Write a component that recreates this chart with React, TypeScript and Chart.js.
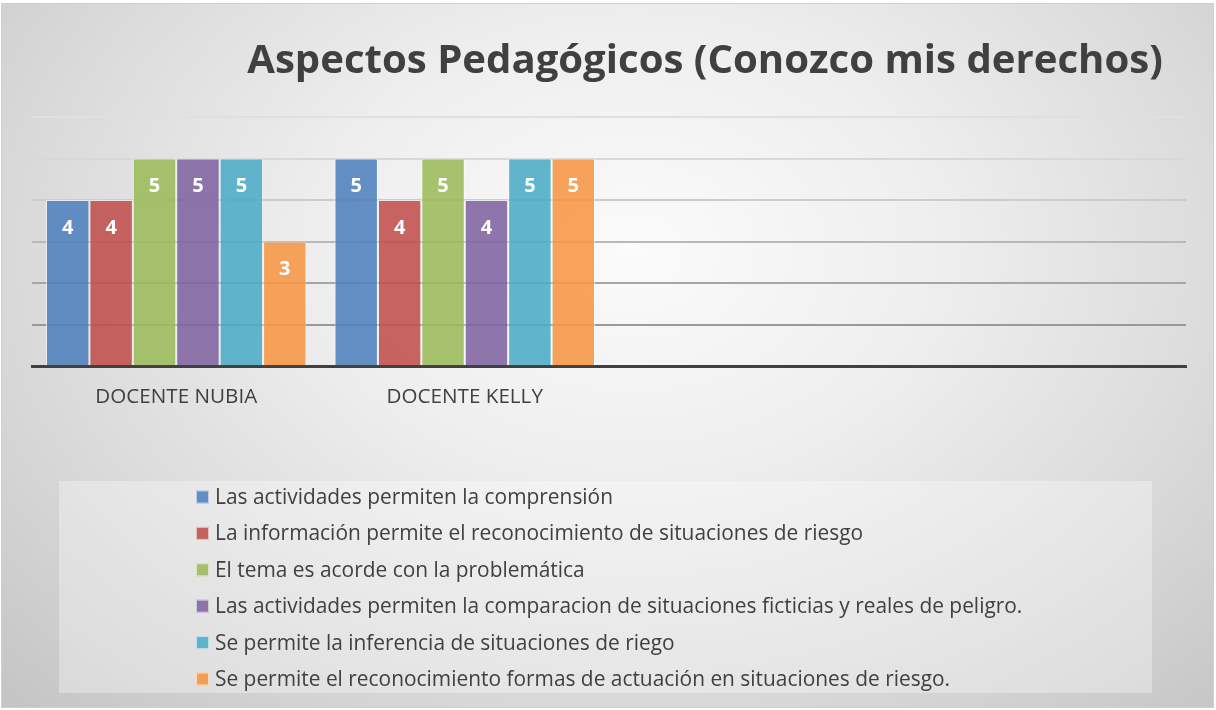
import React, { useEffect, useRef } from "react";
import { Chart, registerables } from "chart.js";

Chart.register(...registerables);

const TITLE = "Aspectos Pedagógicos (Conozco mis derechos)";
const categories = ["DOCENTE NUBIA", "DOCENTE KELLY", "", ""];

const seriesLabels = [
  "Las actividades permiten la comprensión",
  "La información permite el reconocimiento de situaciones de riesgo",
  "El tema es acorde con la problemática",
  "Las actividades permiten la comparacion de situaciones ficticias y reales de peligro.",
  "Se permite la inferencia de situaciones de riego",
  "Se permite el reconocimiento formas de actuación en situaciones de riesgo.",
];

const comprension = [4, 5, null, null];
const reconocimientoRiesgo = [4, 4, null, null];
const temaAcorde = [5, 5, null, null];
const comparacion = [5, 4, null, null];
const inferencia = [5, 5, null, null];
const formasActuacion = [3, 5, null, null];

const seriesValues = [comprension, reconocimientoRiesgo, temaAcorde, comparacion, inferencia, formasActuacion];

const seriesColors = [
  "rgba(79,129,189,0.88)",
  "rgba(192,80,77,0.88)",
  "rgba(155,187,89,0.88)",
  "rgba(128,100,162,0.88)",
  "rgba(75,172,198,0.88)",
  "rgba(247,150,70,0.88)",
];

const gridColors = ["rgba(0,0,0,0)", "#999999", "#a6a6a6", "#b8b8b8", "#cccccc", "#d8d8d8", "#e0e0e0"];

const FONT = "'Open Sans', 'DejaVu Sans', sans-serif";
const TEXT_COLOR = "#404040";

function fitSize(text: string, weight: string, target: number): number {
  const ctx = document.createElement("canvas").getContext("2d")!;
  ctx.font = `${weight} 100px ${FONT}`;
  return (100 * target) / ctx.measureText(text).width;
}

export default function App() {
  const canvasRef = useRef<HTMLCanvasElement | null>(null);

  useEffect(() => {
    document.body.style.margin = "0";
    const canvas = canvasRef.current;
    if (!canvas) return;

    const titleSize = fitSize(TITLE, "bold", 916);
    const tickSize = fitSize(categories[0], "normal", 162);
    const longest = seriesLabels.reduce((a, b) => (b.length > a.length ? b : a), "");
    const legendSize = fitSize(longest, "normal", 808);

    const titlePlugin = {
      id: "customTitle",
      afterDraw(chart: any) {
        const ctx = chart.ctx;
        ctx.save();
        ctx.font = `bold ${titleSize}px ${FONT}`;
        ctx.fillStyle = TEXT_COLOR;
        ctx.textAlign = "center";
        ctx.textBaseline = "alphabetic";
        ctx.fillText(TITLE, 705, 73);
        ctx.restore();
      },
    };

    const labelPlugin = {
      id: "barLabels",
      afterDatasetsDraw(chart: any) {
        const ctx = chart.ctx;
        ctx.save();
        ctx.font = `bold 20px ${FONT}`;
        ctx.fillStyle = "#ffffff";
        ctx.textAlign = "center";
        ctx.textBaseline = "middle";
        chart.data.datasets.forEach((ds: any, di: number) => {
          const meta = chart.getDatasetMeta(di);
          meta.data.forEach((el: any, i: number) => {
            const v = ds.data[i];
            if (v === null || v === undefined) return;
            ctx.fillText(String(v), el.x, el.y + 28);
          });
        });
        ctx.restore();
      },
    };

    const legendPlugin = {
      id: "customLegend",
      afterDraw(chart: any) {
        const ctx = chart.ctx;
        ctx.save();
        ctx.fillStyle = "rgba(255,255,255,0.32)";
        ctx.fillRect(59, 481, 1093, 212);
        ctx.font = `${legendSize}px ${FONT}`;
        ctx.textBaseline = "middle";
        ctx.textAlign = "left";
        chart.data.datasets.forEach((ds: any, i: number) => {
          const cy = 497 + i * 36.4;
          ctx.fillStyle = ds.backgroundColor;
          ctx.fillRect(196, cy - 6.5, 13, 13);
          ctx.strokeStyle = "rgba(255,255,255,0.6)";
          ctx.lineWidth = 1;
          ctx.strokeRect(196.5, cy - 6, 12, 12);
          ctx.fillStyle = TEXT_COLOR;
          ctx.fillText(ds.label, 215, cy + 1);
        });
        ctx.restore();
      },
    };

    const chart = new Chart(canvas, {
      type: "bar",
      data: {
        labels: categories,
        datasets: seriesLabels.map((label, i) => ({
          label,
          data: seriesValues[i],
          backgroundColor: seriesColors[i],
          borderColor: "rgba(255,255,255,0.55)",
          borderWidth: 1,
          categoryPercentage: 0.903,
          barPercentage: 1.0,
        })),
      },
      options: {
        responsive: false,
        animation: false,
        layout: { padding: { left: 32, right: 30, top: 117, bottom: 281 } },
        plugins: {
          legend: { display: false },
          title: { display: false },
          tooltip: { enabled: false },
        },
        scales: {
          x: {
            grid: { display: false, drawTicks: false },
            border: { display: true, color: "#404040", width: 3 },
            ticks: {
              color: TEXT_COLOR,
              font: { family: FONT, size: tickSize },
              padding: 19,
              maxRotation: 0,
              autoSkip: false,
            },
          },
          y: {
            min: 0,
            max: 6,
            ticks: { display: false, stepSize: 1 },
            border: { display: false },
            grid: {
              drawTicks: false,
              lineWidth: 2,
              color: (c: any) => gridColors[c.tick ? Math.round(c.tick.value) : 0] || "#cccccc",
            },
          },
        },
      },
      plugins: [titlePlugin, labelPlugin, legendPlugin],
    });

    return () => chart.destroy();
  }, []);

  return (
    <div style={{ position: "relative", width: 1216, height: 710, background: "#ffffff", overflow: "hidden" }}>
      <div
        style={{
          position: "absolute",
          left: 1,
          top: 3,
          width: 1211,
          height: 703,
          border: "1px solid #d0d0d0",
          background:
            "radial-gradient(ellipse farthest-corner at 52% 35%, #fbfbfb 0%, #eeeeee 35%, #dcdcdc 65%, #c4c4c4 100%)",
        }}
      />
      <canvas ref={canvasRef} width={1216} height={710} style={{ position: "absolute", left: 0, top: 0 }} />
    </div>
  );
}
